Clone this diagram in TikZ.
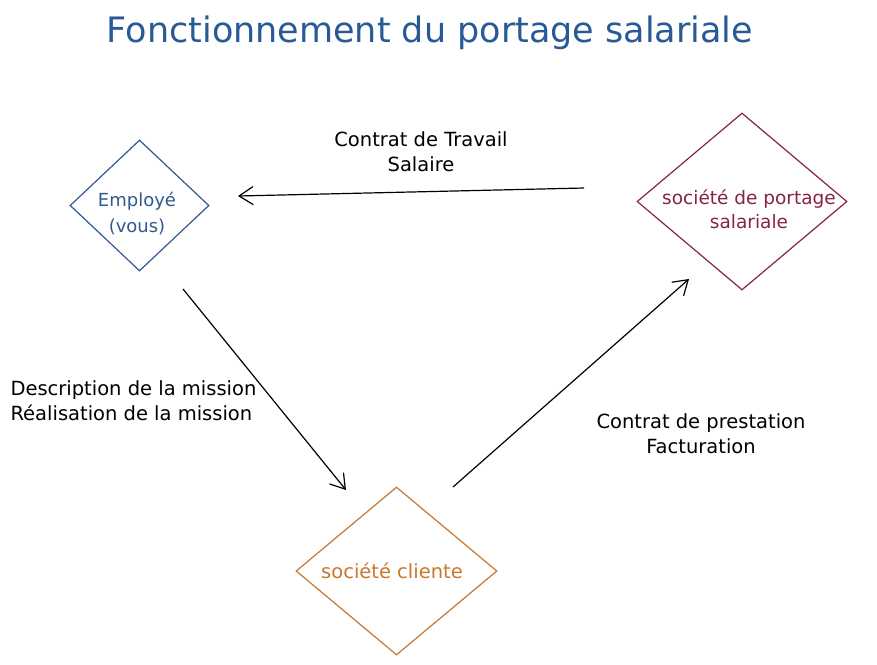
\documentclass[tikz,border=0pt]{standalone}
\usepackage{fontspec}
\setmainfont{DejaVu Sans}
\usetikzlibrary{arrows.meta,shapes.geometric}
\definecolor{titleblue}{RGB}{40,90,150}
\definecolor{empblue}{RGB}{50,90,140}
\definecolor{portred}{RGB}{135,35,75}
\definecolor{cliorange}{RGB}{200,120,45}
\tikzset{
  dia/.style={draw=#1, line width=1.2pt, shape=diamond, inner sep=0pt, fill=white},
  diatext/.style={text=#1, align=center, font=\fontsize{19.5}{24}\selectfont},
  lbl/.style={align=center, font=\fontsize{19.5}{25}\selectfont, text=black},
  conn/.style={draw=black, line width=1.2pt, -{Straight Barb[length=14pt,width=18pt,line width=1.2pt]}}
}
\begin{document}
\begin{tikzpicture}[x=1pt,y=-1pt]
\useasboundingbox[fill=white] (0,0) rectangle (877,664);
\node[text=titleblue, font=\fontsize{35}{40}\selectfont] (title) at (430,33) {Fonctionnement du portage salariale};
% diamonds
\node[dia=empblue, minimum width=139pt, minimum height=131pt] (emp) at (139.5,205.5) {};
\node[diatext=empblue, font=\fontsize{18}{26}\selectfont] (empt) at (137,213) {Employé\\(vous)};
\node[dia=portred, minimum width=210pt, minimum height=177pt] (port) at (742,201.5) {};
\node[diatext=portred, font=\fontsize{18.5}{24}\selectfont] (portt) at (749,209) {société de portage\\salariale};
\node[dia=cliorange, minimum width=201pt, minimum height=168pt] (cli) at (396.5,571) {};
\node[diatext=cliorange] (clit) at (392,571) {société cliente};
% connector ends
\coordinate (a1s) at (584,188);
\coordinate (a1e) at (238,196);
\coordinate (a2s) at (183,289);
\coordinate (a2e) at (346,490);
\coordinate (a3s) at (453,487);
\coordinate (a3e) at (689,279);
\draw[conn] (a1s) -- (a1e);
\draw[conn] (a2s) -- (a2e);
\draw[conn] (a3s) -- (a3e);
% labels
\node[lbl] (l1) at (421,152) {Contrat de Travail\\Salaire};
\node[lbl, align=left, anchor=west] (l2) at (7,401) {Description de la mission\\Réalisation de la mission};
\node[lbl] (l3) at (701,434) {Contrat de prestation\\Facturation};
\end{tikzpicture}
\end{document}
